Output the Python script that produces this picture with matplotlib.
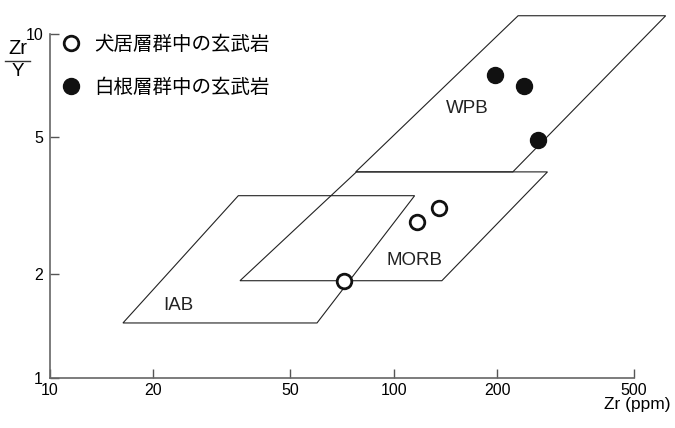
import matplotlib
matplotlib.use('Agg')
import matplotlib.pyplot as plt
from matplotlib.lines import Line2D
from matplotlib.patches import Polygon

# field boundaries (Zr ppm, Zr/Y)
wpb_zr = [77.5, 222, 618, 230]
wpb_ratio = [3.97, 3.97, 11.3, 11.3]
morb_zr = [35.7, 138, 280, 77.9]
morb_ratio = [1.915, 1.915, 3.97, 3.97]
iab_zr = [16.3, 59.8, 115, 35.3]
iab_ratio = [1.443, 1.443, 3.385, 3.385]

# samples
inui_zr = [71.7, 116.9, 135.4]
inui_ratio = [1.915, 2.84, 3.11]
shirane_zr = [196.6, 239.9, 262.1]
shirane_ratio = [7.58, 7.04, 4.91]

field_names = ['WPB', 'MORB', 'IAB']
field_label_zr = [164, 115, 23.7]
field_label_ratio = [6.08, 2.2, 1.62]

xticks = [10, 20, 50, 100, 200, 500]
yticks = [1, 2, 5, 10]

legend_labels = ['犬居層群中の玄武岩', '白根層群中の玄武岩']

plt.rcParams['font.family'] = ['Liberation Sans', 'Noto Sans CJK JP', 'DejaVu Sans']

fig = plt.figure(figsize=(6.75, 4.28), dpi=100)
ax = fig.add_axes([0.0741, 0.1175, 0.8652, 0.8031])
ax.set_xscale('log')
ax.set_yscale('log')
ax.set_xlim(10, 500)
ax.set_ylim(1, 10)

for zr, ratio in [(wpb_zr, wpb_ratio), (morb_zr, morb_ratio), (iab_zr, iab_ratio)]:
    poly = Polygon(list(zip(zr, ratio)), closed=True, fill=False,
                   edgecolor='#222222', linewidth=0.8, clip_on=False, zorder=2)
    ax.add_patch(poly)

for name, zx, zy in zip(field_names, field_label_zr, field_label_ratio):
    ax.text(zx, zy, name, ha='center', va='center', fontsize=13.5, color='#222222')

ax.plot(inui_zr, inui_ratio, 'o', ms=10.5, mfc='white', mec='#111111', mew=2,
        clip_on=False, zorder=4)
ax.plot(shirane_zr, shirane_ratio, 'o', ms=11.5, mfc='#111111', mec='#111111', mew=1,
        clip_on=False, zorder=4)

ax.set_xticks(xticks)
ax.set_xticklabels([str(t) for t in xticks])
ax.set_yticks(yticks)
ax.set_yticklabels([str(t) for t in yticks])
ax.minorticks_off()
ax.tick_params(direction='in', length=6.5, width=1, color='#555555',
               labelsize=11.5)
ax.tick_params(axis='x', pad=4)
ax.tick_params(axis='y', pad=5)

for s in ['top', 'right']:
    ax.spines[s].set_visible(False)
for s in ['left', 'bottom']:
    ax.spines[s].set_color('#666666')
    ax.spines[s].set_linewidth(1.2)

ax.text(1.0616, -0.079, 'Zr (ppm)', transform=ax.transAxes, ha='right',
        va='center', fontsize=12.5)

# y label as fraction
fig.text(18 / 675, 1 - 49 / 428, 'Zr', ha='center', va='center', fontsize=14.5)
fig.text(17.5 / 675, 1 - 72 / 428, 'Y', ha='center', va='center', fontsize=13.5)
fig.add_artist(Line2D([5 / 675, 30 / 675], [1 - 61 / 428, 1 - 61 / 428],
                      color='#333333', linewidth=1))

handles = [
    Line2D([], [], marker='o', ls='', ms=10.5, mfc='white', mec='#111111', mew=2),
    Line2D([], [], marker='o', ls='', ms=11.5, mfc='#111111', mec='#111111'),
]
leg = ax.legend(handles, legend_labels, loc='upper left',
                bbox_to_anchor=(0.0193, 1.0), frameon=False, borderaxespad=0,
                handlelength=1.0, handletextpad=0.7, labelspacing=1.11,
                borderpad=0.0,
                prop={'family': ['Noto Sans CJK JP'], 'size': 14})

fig.savefig('out.png', dpi=100)
